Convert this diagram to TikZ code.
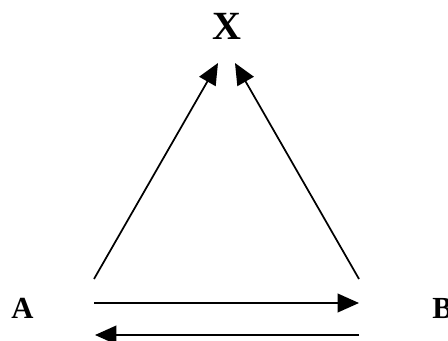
\documentclass[tikz,border=0pt]{standalone}
\usepackage{fontspec}
\setmainfont{Liberation Serif}
\usetikzlibrary{arrows.meta}

\begin{document}
\begin{tikzpicture}[x=0.75pt,y=-0.75pt,every node/.style={font=\bfseries},
  link/.style={line width=1.3pt,-{Triangle[length=16pt,width=14pt]}}]
            \useasboundingbox (0,0) rectangle (448,341);
            \node[font=\fontsize{30}{30}\selectfont\bfseries] (x) at (227,26) {X};
            \node[font=\fontsize{23}{23}\selectfont\bfseries] (a) at (22.5,308.5) {A};
            \node[font=\fontsize{23}{23}\selectfont\bfseries,anchor=west,inner sep=0pt] (b) at (432,308.5) {B};
            % end points of the connectors
            \coordinate (al) at (94,279);
            \coordinate (br) at (359,279);
            \coordinate (xl) at (218,63);
            \coordinate (xr) at (235,63);
            \coordinate (at) at (94,303);
            \coordinate (bt) at (359,303);
            \coordinate (ab) at (95,335);
            \coordinate (bb) at (359,335);
            \draw[link] (al) -- (xl);
            \draw[link] (br) -- (xr);
            \draw[link] (at) -- (bt);
            \draw[link] (bb) -- (ab);
        \end{tikzpicture}
\end{document}
